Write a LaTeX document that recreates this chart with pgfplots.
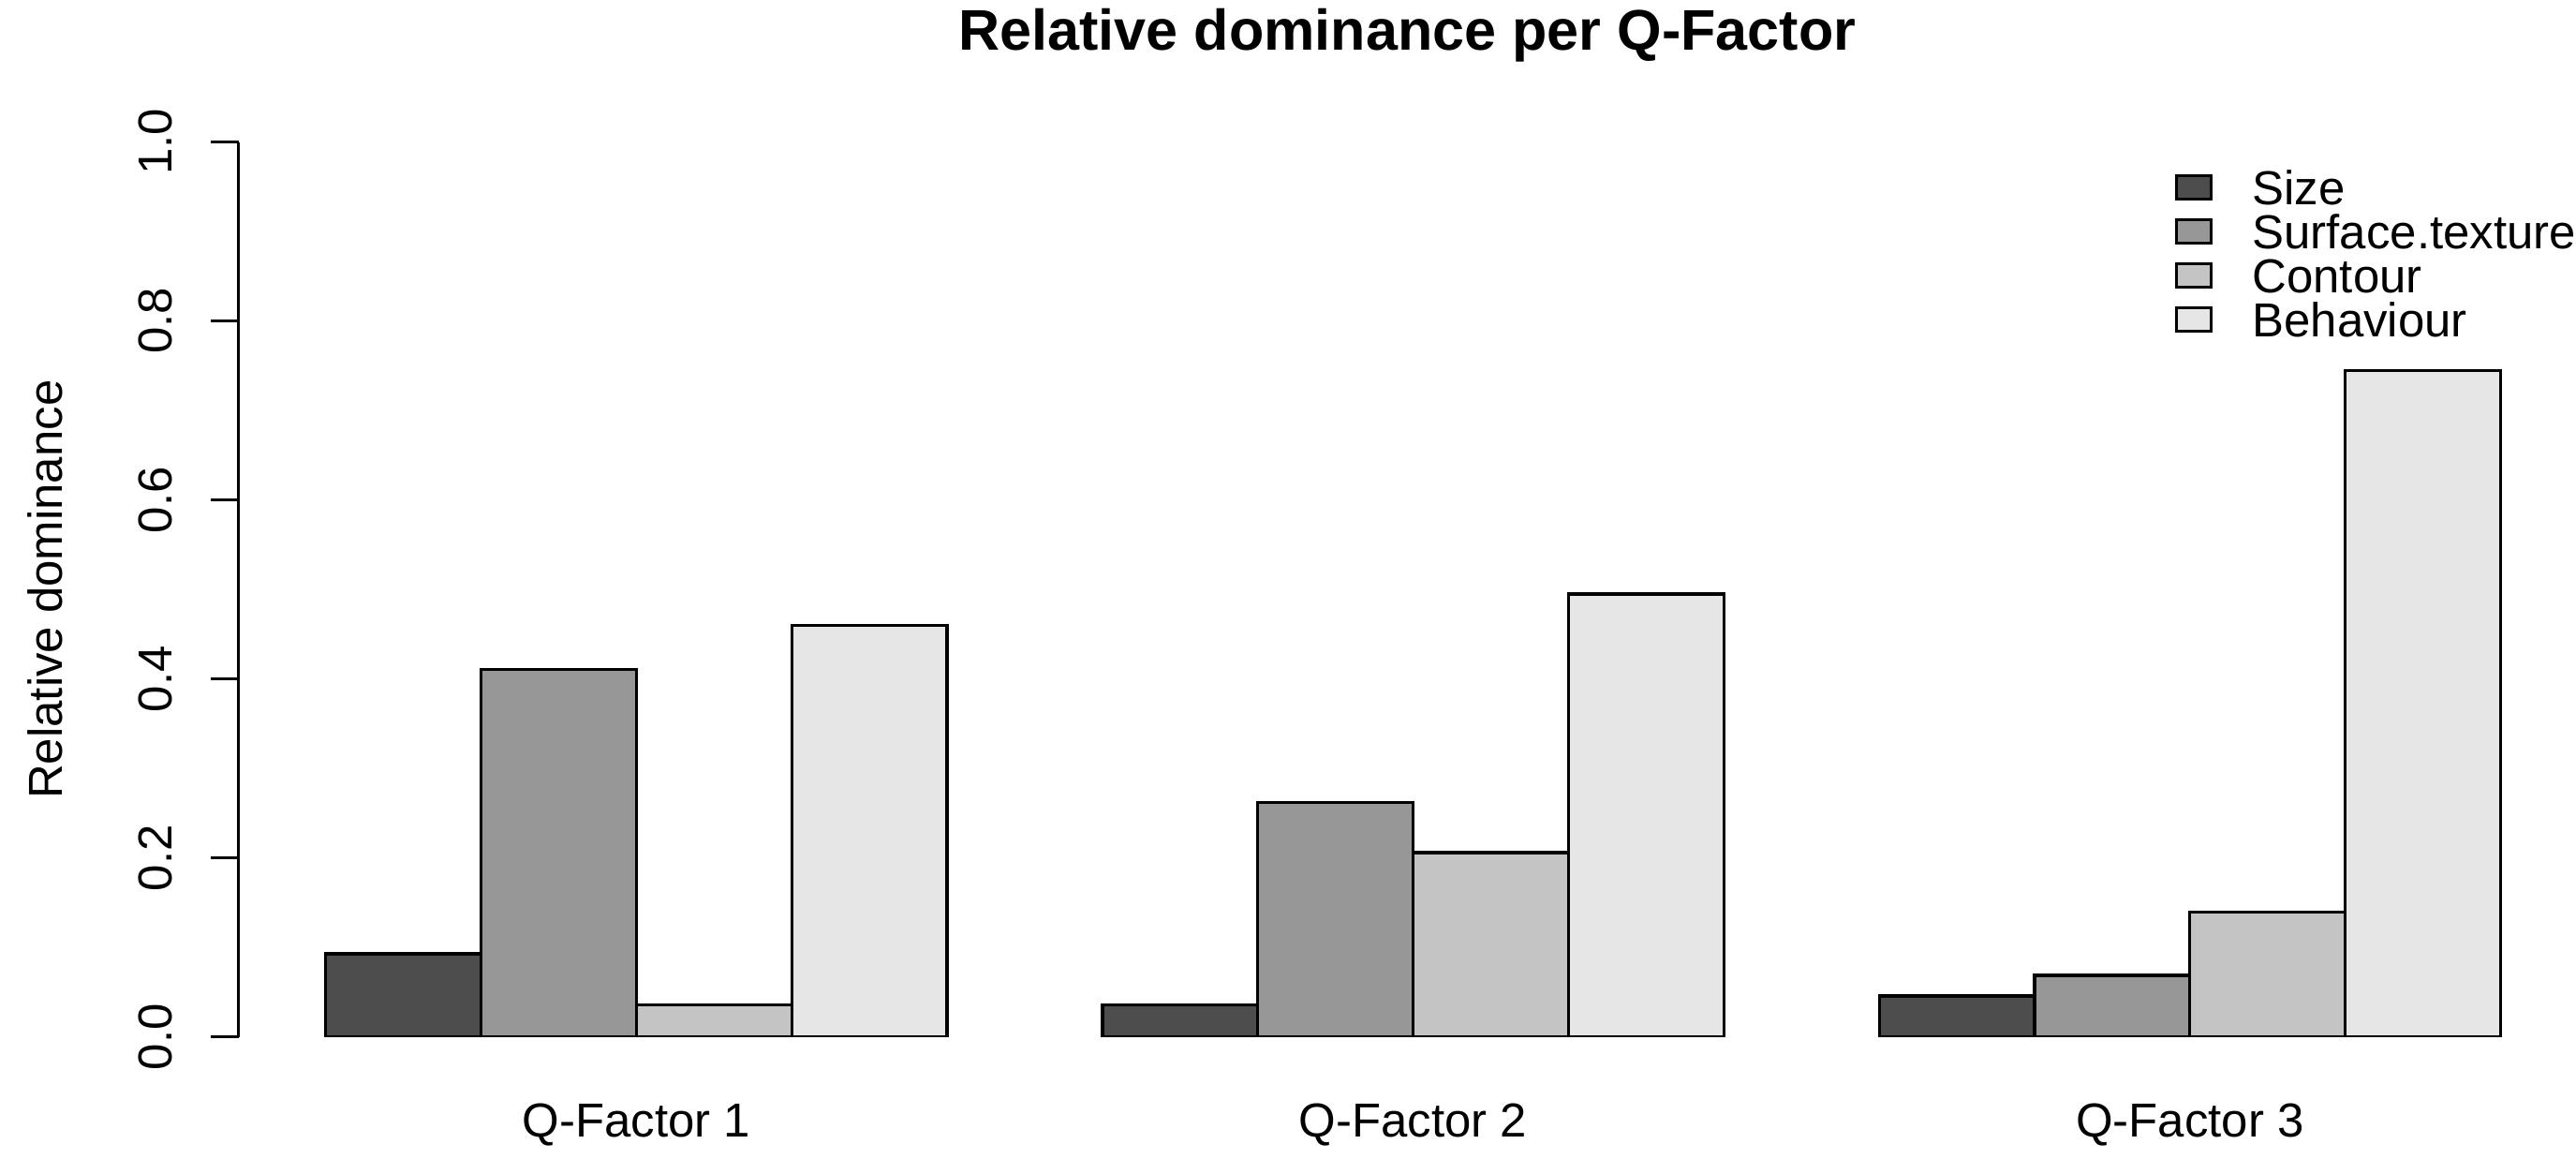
\documentclass[border=0pt]{standalone}
\usepackage{fontspec}
\setmainfont{Liberation Sans}
\usepackage{pgfplots}
\pgfplotsset{compat=1.18}
\definecolor{c1}{HTML}{4D4D4D}
\definecolor{c2}{HTML}{979797}
\definecolor{c3}{HTML}{C4C4C4}
\definecolor{c4}{HTML}{E6E6E6}
\begin{document}
\begin{tikzpicture}
\begin{axis}[
  at={(0pt,0pt)}, anchor=south west,
  scale only axis,
  width=587.9pt, height=225.1pt,
  xmin=0.44, xmax=15.485, ymin=0, ymax=1,
  axis x line*=bottom, axis y line*=left,
  x axis line style={draw=none},
  y axis line style={line width=0.75pt},
  tick align=outside,
  major tick length=7pt,
  major y tick style={line width=0.75pt, black},
  major x tick style={draw=none},
  xtick={3,8,13},
  xticklabels={Q-Factor 1,Q-Factor 2,Q-Factor 3},
  ytick={0,0.2,0.4,0.6,0.8,1},
  yticklabels={0.0,0.2,0.4,0.6,0.8,1.0},
  /pgf/number format/assume math mode=true,
  ticklabel style={font=\fontsize{12}{14}\selectfont},
  xticklabel style={anchor=base, yshift=-18.1pt},
  yticklabel style={xshift=-9.7pt, rotate=90, anchor=base},
  ylabel={Relative dominance},
  every axis y label/.style={at={(axis description cs:0,0.5)}, xshift=-44.3pt, rotate=90, anchor=base, font=\fontsize{12}{14}\selectfont},
  title={Relative dominance per Q-Factor},
  every axis title/.style={at={(axis description cs:0.5,1)}, anchor=base, yshift=23.1pt, font=\fontsize{14.4}{17}\selectfont\bfseries},
  legend style={draw=none, fill=none, at={(axis cs:12.899,0.969)}, anchor=north west, inner sep=0pt, row sep=2.47pt, nodes={inner sep=0pt, text height=8.6pt, text depth=0pt, font=\fontsize{12}{14}\selectfont}},
  legend cell align=left,
  /tikz/every odd column/.style={column sep=10pt},
  mylegend/.style={legend image code/.code={\draw[##1, draw=black, line width=0.75pt] (0pt,-2.95pt) rectangle (8.7pt,2.95pt);}},
]
\addplot[ybar, bar width=1, bar shift=0pt, fill=c1, draw=black, line width=0.75pt, mylegend] coordinates {(1.5,0.093) (6.5,0.036) (11.5,0.046)};
\addlegendentry{Size}
\addplot[ybar, bar width=1, bar shift=0pt, fill=c2, draw=black, line width=0.75pt, mylegend] coordinates {(2.5,0.411) (7.5,0.262) (12.5,0.069)};
\addlegendentry{Surface.texture}
\addplot[ybar, bar width=1, bar shift=0pt, fill=c3, draw=black, line width=0.75pt, mylegend] coordinates {(3.5,0.036) (8.5,0.206) (13.5,0.140)};
\addlegendentry{Contour}
\addplot[ybar, bar width=1, bar shift=0pt, fill=c4, draw=black, line width=0.75pt, mylegend] coordinates {(4.5,0.460) (9.5,0.495) (14.5,0.745)};
\addlegendentry{Behaviour}
\end{axis}
\pgfresetboundingbox
\path[use as bounding box] (-60.04pt,-30.6pt) rectangle (587.9pt,260.8pt);
\end{tikzpicture}
\end{document}
